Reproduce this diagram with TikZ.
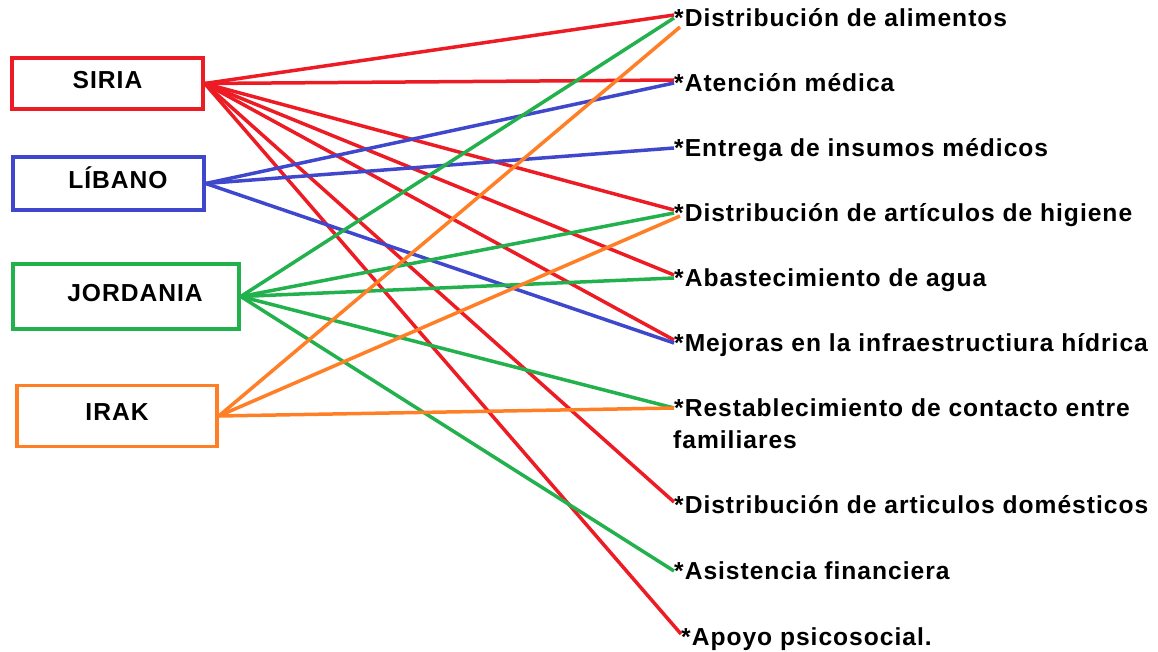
\documentclass[tikz,border=0pt]{standalone}
\usepackage{fontspec}
\setmainfont{Liberation Sans}
\newfontfamily\letrero[LetterSpace=4]{Liberation Sans}
\definecolor{rojo}{RGB}{237,28,36}
\definecolor{azul}{RGB}{63,72,204}
\definecolor{verde}{RGB}{34,177,76}
\definecolor{naranja}{RGB}{255,127,39}
\tikzset{
  pais/.style={draw, line width=3.5pt, inner sep=0pt, text height=21.6pt, text depth=12.4pt, text=black,
    font=\letrero\bfseries\fontsize{24.6}{29}\selectfont},
  ayuda/.style={anchor=west, inner sep=0pt, text height=21.6pt, text depth=4.4pt,
    font=\letrero\bfseries\fontsize{24.6}{29}\selectfont},
  enlace/.style={line width=3.5pt}
}
\begin{document}
\begin{tikzpicture}[x=1pt,y=-1pt]
                        \useasboundingbox (0,0) rectangle (1158,652);
                        \node[pais, draw=rojo, minimum width=191pt, minimum height=51pt] (siria) at (107.5,83.5) {SIRIA\hspace{7pt}};
                        \node[pais, draw=azul, minimum width=191pt, minimum height=53pt] (libano) at (108.5,183.5) {\hspace{19pt}LÍBANO};
                        \node[pais, draw=verde, minimum width=226pt, minimum height=65pt] (jordania) at (126,296.5) {\hspace{18pt}JORDANIA};
                        \node[pais, draw=naranja, minimum width=200pt, minimum height=61pt] (irak) at (117,416) {IRAK\hspace{6pt}};
                        \node[ayuda] (alim) at (674,18) {*Distribución de alimentos};
                        \node[ayuda] (aten) at (674,83) {*Atención médica};
                        \node[ayuda] (insu) at (674,148) {*Entrega de insumos médicos};
                        \node[ayuda] (hig) at (674,213) {*Distribución de artículos de higiene};
                        \node[ayuda] (agua) at (674,278) {*Abastecimiento de agua};
                        \node[ayuda] (mej) at (674,343) {*Mejoras en la infraestructiura hídrica};
                        \node[ayuda] (rest) at (674,408) {*Restablecimiento de contacto entre};
                        \node[ayuda] (fam) at (673,440) {familiares};
                        \node[ayuda] (dom) at (674,505) {*Distribución de articulos domésticos};
                        \node[ayuda] (fin) at (674,571) {*Asistencia financiera};
                        \node[ayuda] (apoyo) at (681,637) {*Apoyo psicosocial.};
                        \foreach \d in {alim,aten,hig,agua,mej,dom,apoyo}
                            {\draw[enlace, rojo] (siria.east) -- ([yshift=3pt]\d.west);}
                        \foreach \d in {aten,insu,mej}
                            {\draw[enlace, azul] (libano.east) -- (\d.west);}
                        \foreach \d in {alim,hig,agua,rest,fin}
                            {\draw[enlace, verde] (jordania.east) -- (\d.west);}
                        \draw[enlace, naranja] (irak.east) -- ([xshift=6pt,yshift=-9pt]alim.west);
                        \draw[enlace, naranja] (irak.east) -- ([xshift=6pt,yshift=-3pt]hig.west);
                        \draw[enlace, naranja] (irak.east) -- (rest.west);
                    \end{tikzpicture}
\end{document}
